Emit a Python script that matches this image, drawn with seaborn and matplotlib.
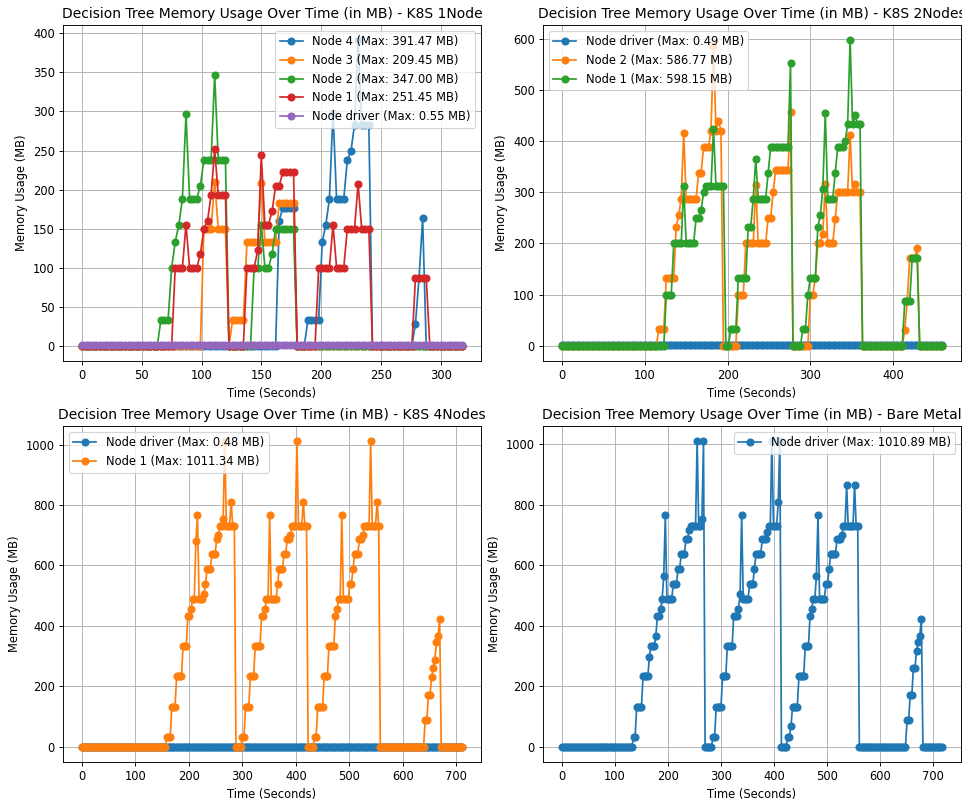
import numpy as np
import pandas as pd
import matplotlib
matplotlib.use("Agg")
import matplotlib.pyplot as plt
import seaborn as sns

SAMPLE_STEP = 3.0  # seconds between two memory samples

# Each series is stored run-length encoded: value levels and how many
# consecutive samples stay at that level.

# ---------------- K8S 1Node ----------------
k1_node4_vals = [0, 160, 177, 0, 33, 133, 155, 188, 298, 188, 238, 249, 283, 391.47, 283, 0, 28, 87, 163, 0]
k1_node4_runs = [55, 1, 4, 3, 4, 1, 1, 1, 1, 3, 1, 1, 1, 1, 3, 12, 1, 1, 1, 11]

k1_node3_vals = [0, 150, 209.45, 150, 0, 33, 133, 209, 133, 183, 0]
k1_node3_runs = [34, 3, 1, 3, 1, 4, 4, 1, 4, 5, 47]

k1_node2_vals = [0, 33, 100, 133, 155, 188, 297, 188, 205, 238, 347.00, 238, 0, 100, 155, 100, 117, 150, 0]
k1_node2_runs = [22, 3, 1, 1, 1, 1, 1, 3, 1, 3, 1, 3, 7, 2, 1, 2, 1, 6, 47]

k1_node1_vals = [0, 100, 155, 100, 117, 150, 160, 193, 251.45, 193, 0, 100, 122, 244, 155, 172, 205, 222,
                 0, 100, 155, 100, 150, 207, 150, 0, 87, 0]
k1_node1_runs = [26, 3, 1, 3, 1, 1, 1, 1, 1, 3, 5, 3, 1, 1, 2, 1, 2, 4,
                 6, 4, 1, 3, 3, 1, 3, 12, 4, 10]

k1_driver_vals = [0.41, 0.55, 0.47]
k1_driver_runs = [30, 2, 75]

# ---------------- K8S 2Nodes ----------------
k2_driver_vals = [0.38, 0.49, 0.42]
k2_driver_runs = [60, 1, 93]

k2_node2_vals = [0, 33, 133, 233, 255, 288, 416, 288, 338, 388, 421, 586.77, 421, 440, 421,
                 0, 100, 200, 315, 200, 250, 300, 343, 457,
                 0, 100, 133, 200, 219, 317, 200, 248, 300, 413, 300, 317, 300,
                 0, 31, 87, 172, 192, 0]
k2_node2_runs = [39, 3, 4, 1, 1, 1, 1, 5, 2, 3, 1, 1, 1, 1, 1,
                 6, 3, 4, 1, 4, 2, 1, 6, 1,
                 7, 2, 1, 2, 1, 1, 3, 1, 5, 1, 1, 1, 2,
                 17, 1, 1, 3, 1, 10]

k2_node1_vals = [0, 100, 200, 313, 200, 250, 265, 300, 312, 424, 312,
                 0, 33, 133, 233, 288, 365, 288, 338, 388, 553,
                 0, 33, 100, 133, 232, 255, 307, 455, 288, 338, 388, 400, 433, 598.15, 433, 451, 433,
                 0, 87, 172, 0]
k2_node1_runs = [42, 3, 4, 1, 4, 2, 1, 1, 3, 1, 4,
                 2, 3, 4, 2, 1, 1, 4, 1, 8, 1,
                 4, 2, 1, 3, 1, 1, 1, 1, 3, 1, 3, 1, 1, 1, 1, 1, 2,
                 17, 3, 3, 10]

# ---------------- K8S 4Nodes ----------------
k4_driver_vals = [0.36, 0.48, 0.40]
k4_driver_runs = [100, 1, 137]

k4_node1_vals = [0, 33, 133, 233, 333, 433, 455, 488, 680, 767, 488, 505, 538, 588, 638, 688, 700, 730, 753, 1011.34, 730, 810, 730,
                 0, 33, 133, 233, 333, 433, 455, 488, 767, 488, 538, 588, 638, 688, 700, 730, 1011.34, 730, 810, 730,
                 0, 33, 133, 233, 333, 433, 455, 488, 767, 488, 538, 588, 638, 688, 700, 730, 1011.34, 730, 810, 730,
                 0, 87, 172, 230, 260, 288, 345, 365, 423, 0]
k4_node1_runs = [53, 3, 3, 4, 3, 2, 1, 2, 1, 1, 3, 1, 1, 3, 3, 1, 1, 2, 1, 1, 3, 1, 2,
                 4, 2, 3, 3, 4, 2, 1, 2, 1, 4, 1, 3, 2, 2, 1, 3, 1, 3, 1, 2,
                 4, 2, 4, 3, 4, 1, 1, 2, 1, 4, 2, 1, 3, 2, 1, 4, 1, 3, 1, 1,
                 28, 2, 2, 1, 1, 1, 1, 1, 1, 14]

# ---------------- Bare Metal ----------------
bm_driver_vals = [0, 33, 133, 233, 297, 333, 365, 433, 455, 488, 565, 767, 488, 538, 588, 638, 688, 716, 730, 1010.89, 730, 753, 1010.89,
                  0, 33, 133, 233, 333, 433, 455, 505, 767, 488, 538, 588, 638, 688, 709, 730, 1010.89, 730, 810, 1010.89,
                  0, 33, 67, 133, 233, 333, 433, 455, 488, 565, 767, 488, 538, 588, 638, 688, 700, 730, 866, 730, 866, 730,
                  0, 87, 172, 260, 318, 345, 365, 423, 0]
bm_driver_runs = [45, 2, 4, 4, 1, 3, 1, 2, 1, 1, 1, 1, 4, 3, 2, 3, 2, 1, 4, 1, 2, 1, 1,
                  5, 2, 4, 3, 4, 3, 1, 1, 1, 4, 3, 1, 4, 3, 1, 2, 1, 3, 1, 1,
                  4, 2, 1, 4, 4, 3, 1, 1, 2, 1, 1, 4, 2, 1, 4, 3, 1, 2, 1, 4, 1, 2,
                  30, 2, 2, 2, 1, 1, 1, 1, 13]

palette = sns.color_palette("tab10")

panels = [
    ("K8S 1Node", "upper right", [
        ("Node 4", k1_node4_vals, k1_node4_runs, palette[0]),
        ("Node 3", k1_node3_vals, k1_node3_runs, palette[1]),
        ("Node 2", k1_node2_vals, k1_node2_runs, palette[2]),
        ("Node 1", k1_node1_vals, k1_node1_runs, palette[3]),
        ("Node driver", k1_driver_vals, k1_driver_runs, palette[4]),
    ]),
    ("K8S 2Nodes", "upper left", [
        ("Node driver", k2_driver_vals, k2_driver_runs, palette[0]),
        ("Node 2", k2_node2_vals, k2_node2_runs, palette[1]),
        ("Node 1", k2_node1_vals, k2_node1_runs, palette[2]),
    ]),
    ("K8S 4Nodes", "upper left", [
        ("Node driver", k4_driver_vals, k4_driver_runs, palette[0]),
        ("Node 1", k4_node1_vals, k4_node1_runs, palette[1]),
    ]),
    ("Bare Metal", "upper right", [
        ("Node driver", bm_driver_vals, bm_driver_runs, palette[0]),
    ]),
]

DPI = 83
fig, axes = plt.subplots(2, 2, figsize=(962 / DPI, 800 / DPI), dpi=DPI)
fig.subplots_adjust(left=0.0655, right=0.999, bottom=0.0475, top=0.969,
                    wspace=0.148, hspace=0.193)

for ax, (env, legend_loc, series) in zip(axes.flat, panels):
    for name, vals, runs, color in series:
        usage = np.repeat(np.asarray(vals, dtype=float), runs)
        df = pd.DataFrame({
            "time": np.arange(len(usage)) * SAMPLE_STEP,
            "memory": usage,
        })
        sns.lineplot(data=df, x="time", y="memory", ax=ax, color=color,
                     marker="o", markersize=6, markeredgecolor=color,
                     markeredgewidth=1.0, linewidth=1.5,
                     estimator=None, sort=False,
                     label=f"{name} (Max: {usage.max():.2f} MB)")
    ax.set_title(f"Decision Tree Memory Usage Over Time (in MB) - {env}", fontsize=12)
    ax.set_xlabel("Time (Seconds)")
    ax.set_ylabel("Memory Usage (MB)")
    ax.grid(True)
    ax.legend(loc=legend_loc)

fig.savefig("out.png", dpi=DPI)
